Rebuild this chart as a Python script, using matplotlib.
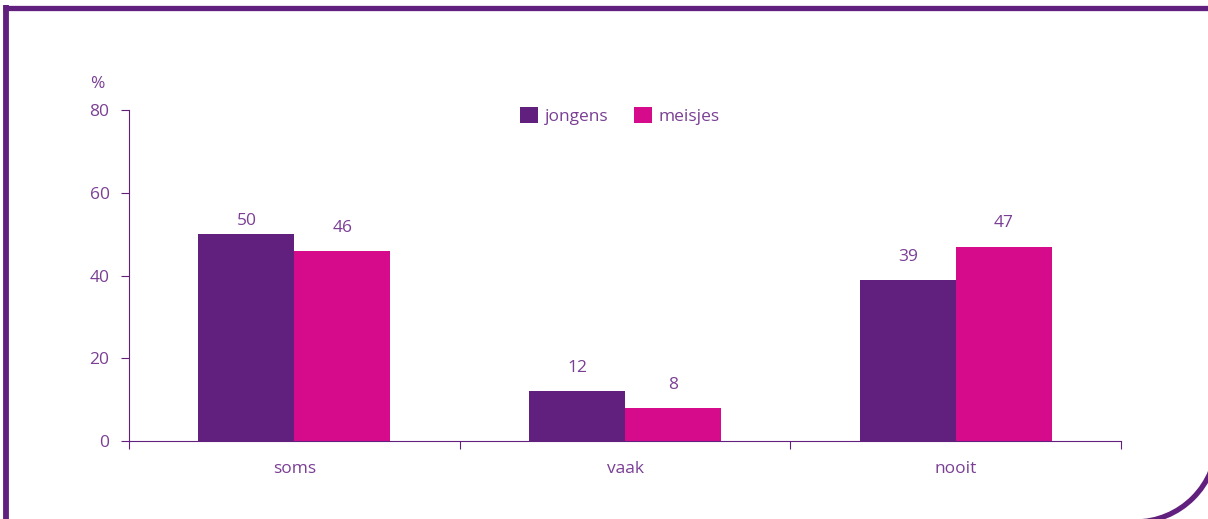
import numpy as np
import matplotlib.pyplot as plt
from matplotlib.patches import Arc
from matplotlib.lines import Line2D

plt.rcParams['font.family'] = ['Open Sans', 'DejaVu Sans']

categories = ['soms', 'vaak', 'nooit']
jongens = [50, 12, 39]
meisjes = [46, 8, 47]

paars = '#62207e'
roze = '#d60b8c'
tekst = '#7a3f95'

fig = plt.figure(figsize=(12.08, 5.19), dpi=100)
ax = fig.add_axes([0.1068, 0.150, 0.8212, 0.638])

x = np.arange(len(categories))
w = 0.29
b1 = ax.bar(x - w / 2, jongens, w, color=paars, label='jongens')
b2 = ax.bar(x + w / 2, meisjes, w, color=roze, label='meisjes')

# labels boven de balken, bovenaan begrensd
for bars, vals in ((b1, jongens), (b2, meisjes)):
    for b, v in zip(bars, vals):
        ax.text(b.get_x() + b.get_width() / 2, min(v + 5.6, 53.2), str(v), ha='center',
                va='center', color=tekst, fontsize=12.5)

ax.set_xlim(-0.5, 2.5)
ax.set_ylim(0, 80)
ax.set_yticks([0, 20, 40, 60, 80])
ax.set_xticks([-0.5, 0.5, 1.5, 2.5])
ax.set_xticklabels([])
ax.set_xticks(x, minor=True)
ax.set_xticklabels(categories, minor=True)
ax.tick_params(axis='x', which='minor', length=0, pad=14, labelcolor=tekst, labelsize=12.5)
ax.tick_params(axis='x', which='major', length=6, color=paars, direction='out')
ax.tick_params(axis='y', length=6, color=paars, labelcolor=tekst, labelsize=12.5, pad=8)
for s in ['top', 'right']:
    ax.spines[s].set_visible(False)
ax.spines['left'].set_color(paars)
ax.spines['bottom'].set_color(paars)

ax.text(-0.032, 1.08, '%', transform=ax.transAxes, color=tekst, fontsize=12.5,
        ha='center', va='center')

ax.legend(loc='upper center', bbox_to_anchor=(0.495, 1.055), ncol=2, frameon=False,
          fontsize=12.5, labelcolor=tekst, handlelength=1.0, handleheight=1.0,
          handletextpad=0.4, columnspacing=1.5)

# kader
W, H = 1208, 519
fig.add_artist(Line2D([3 / W, 1], [1 - 7.5 / H, 1 - 7.5 / H], transform=fig.transFigure,
                      color=paars, lw=3.8, solid_capstyle='butt'))
fig.add_artist(Line2D([6 / W, 6 / W], [0, 1 - 5 / H], transform=fig.transFigure,
                      color=paars, lw=4.2, solid_capstyle='butt'))
fig.add_artist(Arc((1135 / W, 1 - 440 / H), 2 * 82 / W, 2 * 82 / H, theta1=270, theta2=360,
                   transform=fig.transFigure, color=paars, lw=3.8))

fig.savefig('out.png', dpi=100)
